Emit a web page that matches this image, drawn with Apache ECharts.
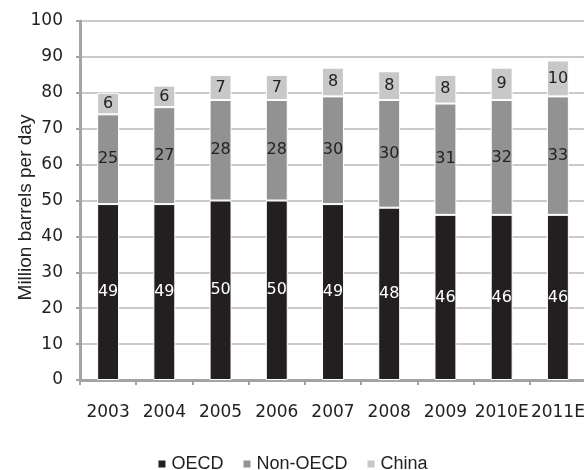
<!DOCTYPE html>
<html>
<head>
<meta charset="utf-8">
<script src="https://cdn.jsdelivr.net/npm/echarts@6/dist/echarts.min.js"></script>
<style>
  html, body { margin: 0; padding: 0; background: #fff; }
  #chart { width: 584px; height: 470px; }
</style>
</head>
<body>
<div id="chart"></div>
<script>
// World oil demand by region, million barrels per day
const years = ['2003', '2004', '2005', '2006', '2007', '2008', '2009', '2010E', '2011E'];
const oecd = [49, 49, 50, 50, 49, 48, 46, 46, 46];
const nonOecd = [25, 27, 28, 28, 30, 30, 31, 32, 33];
const china = [6, 6, 7, 7, 8, 8, 8, 9, 10];
const yTicks = { min: 0, max: 100, step: 10 };

const TEXT_FONT = '"Liberation Sans", Arial, sans-serif';
const NUM_FONT = '"DejaVu Sans", "Liberation Sans", sans-serif';
const AXIS_GRAY = '#a3a3a3';
const INK = '#222222';

function barSeries(name, data, color, labelColor) {
  return {
    name: name,
    type: 'bar',
    stack: 'total',
    data: data,
    barWidth: '39%',
    itemStyle: { color: color, borderColor: '#ffffff', borderWidth: 1 },
    label: {
      show: true,
      position: 'inside',
      color: labelColor,
      fontFamily: NUM_FONT,
      fontSize: 16
    },
    emphasis: { disabled: true }
  };
}

const chart = echarts.init(document.getElementById('chart'), null, { renderer: 'canvas' });
chart.setOption({
  animation: false,
  backgroundColor: '#ffffff',
  grid: {
    left: 80, right: -2, top: 21, bottom: 90,
    containLabel: false,
    outerBoundsMode: 'none'
  },
  legend: {
    top: 455,
    left: 'center',
    padding: 0,
    icon: 'rect',
    itemWidth: 9,
    itemHeight: 9,
    itemGap: 18,
    textStyle: { fontFamily: TEXT_FONT, fontSize: 18, color: INK },
    data: ['OECD', 'Non-OECD', 'China']
  },
  xAxis: {
    type: 'category',
    data: years,
    axisLine: { lineStyle: { color: AXIS_GRAY, width: 3 } },
    axisTick: { show: true, length: 5, lineStyle: { color: AXIS_GRAY, width: 2 } },
    axisLabel: { interval: 0, margin: 24, fontFamily: NUM_FONT, fontSize: 17, color: INK },
    splitLine: { show: false }
  },
  yAxis: {
    type: 'value',
    min: yTicks.min,
    max: yTicks.max,
    interval: yTicks.step,
    name: 'Million barrels per day',
    nameLocation: 'middle',
    nameGap: 45,
    nameRotate: 90,
    nameMoveOverlap: false,
    nameTextStyle: { fontFamily: TEXT_FONT, fontSize: 19, color: INK, padding: [0, 14, 0, 0] },
    axisLine: { show: true, lineStyle: { color: AXIS_GRAY, width: 3 } },
    axisTick: { show: true, length: 4, lineStyle: { color: AXIS_GRAY, width: 2 } },
    axisLabel: { margin: 17, fontFamily: NUM_FONT, fontSize: 17, color: INK },
    splitLine: { show: true, lineStyle: { color: '#cacaca', width: 2 } }
  },
  series: [
    barSeries('OECD', oecd, '#231f20', '#ffffff'),
    barSeries('Non-OECD', nonOecd, '#929292', INK),
    barSeries('China', china, '#c8c8c8', INK)
  ]
});
</script>
</body>
</html>
